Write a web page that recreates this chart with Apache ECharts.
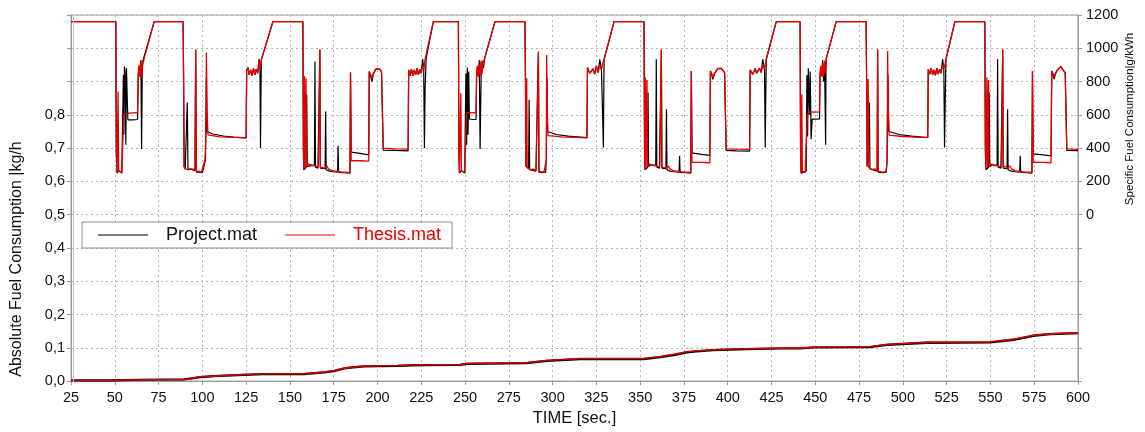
<!DOCTYPE html>
<html>
<head>
<meta charset="utf-8">
<script src="https://cdn.jsdelivr.net/npm/echarts@6/dist/echarts.min.js"></script>
<style>
  html, body { margin: 0; padding: 0; background: #fff; }
  #chart { width: 1145px; height: 432px; }
</style>
</head>
<body>
<div id="chart"></div>
<script>
// Run names
const runNames = ['Project.mat', 'Thesis.mat'];

// Tick labels (decimal comma on the absolute axis)
const absTickLabels = ['0,0', '0,1', '0,2', '0,3', '0,4', '0,5', '0,6', '0,7', '0,8'];
const sfcTickLabels = ['0', '200', '400', '600', '800', '1000', '1200'];

// Specific fuel consumption [g/kWh] vs time [s] – Thesis.mat
const thesisSfc = [
  [25,1160],[50.6,1160],
  [50.9,370],[51.3,250],[51.7,255],[51.9,740],[52.2,265],[53.0,258],[54.0,250],[54.6,262],[55.1,600],[55.6,612],[58.0,610],[60.5,612],[63.0,614],[63.4,850],[63.9,900],[64.4,830],[64.9,915],[65.4,825],[65.9,930],[66.3,915],[66.7,935],
  [72.5,1160],[89.0,1160],
  [89.3,820],[89.6,290],[90.2,275],[91.0,285],[92.0,270],[93.0,280],[94.0,275],[95.8,270],[96.2,994],[96.6,260],[98.0,262],[99.5,255],[100.5,265],[101.5,330],[102.0,460],[102.3,975],[102.7,620],[103.2,480],[110.0,468],[118.0,465],[125.0,462],
  [125.3,865],[126.0,885],[126.8,840],[127.6,870],[128.4,835],[129.2,880],[130.0,840],[130.8,875],[131.6,850],[132.4,920],[133.0,870],[133.6,930],[140.3,1160],[157.4,1160],
  [157.7,400],[157.9,270],[158.3,834],[158.6,280],[159.2,820],[159.5,290],[160.3,305],[161.0,314],[162.0,300],[163.0,305],[164.0,292],[165.0,300],[166.3,290],[166.8,300],[167.1,994],[167.4,285],[168.5,290],[170.0,280],[171.0,294],[172.0,275],[174.0,265],[176.0,262],[178.0,258],[180.0,256],[182.0,255],[184.3,254],[184.6,855],[185.0,324],[190.0,324],[195.0,322],
  [195.3,860],[196.2,840],[196.9,820],[197.6,850],[198.4,865],[199.3,878],[200.2,890],[201.2,875],[202.3,860],[203.0,850],[203.3,400],[210.0,396],[217.5,394],
  [217.8,870],[218.6,835],[219.4,875],[220.2,835],[221.0,870],[221.8,840],[222.6,880],[223.4,840],[224.2,875],[225.0,850],[225.8,895],[226.5,870],[227.1,930],[227.8,940],[231.9,1160],[246.2,1160],
  [246.5,370],[246.8,250],[247.3,255],[247.6,730],[247.9,265],[248.8,258],[249.8,250],[250.3,262],[250.8,600],[251.3,614],[254.0,612],[256.3,614],[256.6,850],[257.1,895],[257.6,830],[258.1,910],[258.6,830],[259.1,925],[259.7,845],[260.3,930],[260.8,915],[261.2,940],[267.1,1160],[284.2,1160],
  [284.5,820],[284.8,290],[285.2,820],[285.5,285],[286.5,280],[287.5,270],[289.0,275],[290.5,265],[291.6,270],[291.9,980],[292.2,262],[293.5,258],[295.0,255],[296.0,262],[296.4,330],[296.6,960],[297.0,620],[297.4,475],[305.0,468],[312.0,465],[319.6,462],
  [319.9,884],[320.6,864],[321.3,850],[322.1,844],[323.1,878],[324.0,845],[325.0,894],[326.0,854],[326.9,900],[327.9,870],[328.6,910],[329.4,934],[335.1,1160],[352.2,1160],
  [352.5,400],[352.7,270],[353.0,824],[353.3,280],[353.9,810],[354.2,290],[355.0,305],[356.0,314],[357.0,300],[358.0,305],[359.0,292],[360.0,300],[361.2,290],[361.8,300],[362.1,994],[362.4,285],[363.5,290],[365.0,280],[366.0,294],[367.0,275],[369.0,265],[371.0,262],[373.0,258],[375.0,256],[377.0,255],[378.9,254],[379.2,864],[379.6,314],[385.0,314],[389.8,312],
  [390.1,864],[390.8,850],[391.5,824],[392.4,850],[393.4,864],[394.3,878],[395.3,890],[396.3,880],[397.3,870],[398.2,854],[398.9,850],[399.1,396],[405.0,394],[412.5,392],
  [412.8,870],[413.6,860],[414.3,844],[415.0,860],[415.7,878],[416.5,850],[417.2,844],[418.1,880],[419.1,854],[420.0,900],[421.0,874],[421.6,910],[422.0,934],[427.7,1160],[441.3,1160],
  [441.6,370],[441.9,250],[442.1,260],[442.3,724],[442.6,262],[443.4,255],[444.2,254],[444.8,262],[445.3,560],[445.8,608],[447.2,618],[450.0,616],[452.4,618],[452.7,850],[453.2,895],[453.7,830],[454.2,910],[454.7,830],[455.2,925],[455.7,850],[456.2,935],[461.9,1160],[479.0,1160],
  [479.3,820],[479.6,290],[480.2,815],[480.5,285],[481.5,280],[482.5,270],[484.0,275],[485.3,268],[485.6,994],[485.9,262],[487.5,258],[489.0,255],[490.5,262],[491.0,330],[491.3,985],[491.7,620],[492.2,478],[500.0,470],[507.0,466],[514.2,464],
  [514.5,875],[515.4,845],[516.2,880],[517.0,840],[517.8,870],[518.6,838],[519.4,880],[520.2,845],[521.0,875],[521.8,850],[522.7,900],[523.6,880],[524.6,934],[529.7,1160],[546.8,1160],
  [547.1,400],[547.4,270],[548.0,824],[548.3,280],[548.9,810],[549.2,290],[550.0,305],[551.0,314],[552.0,300],[553.0,305],[554.0,292],[555.0,300],[556.3,290],[556.7,300],[557.0,994],[557.3,285],[558.5,290],[560.0,280],[561.0,294],[562.0,275],[564.0,265],[566.0,262],[568.0,258],[570.0,256],[572.0,255],[573.7,254],[574.0,864],[574.4,314],[580.0,314],[584.6,312],
  [585.0,864],[585.7,850],[586.4,824],[587.1,850],[587.9,864],[589.0,878],[590.2,890],[591.4,870],[592.7,854],[593.4,850],[593.6,396],[600.0,393]
];

// Specific fuel consumption [g/kWh] vs time [s] – Project.mat
const projectSfc = [
  [25,1160],[50.6,1160],
  [50.9,370],[51.3,250],[51.7,255],[52.2,265],[53.0,258],[54.0,250],[54.6,262],[54.9,840],[55.2,480],[55.5,890],[55.9,860],[56.3,420],[56.7,880],[57.1,700],[57.5,570],[60.5,570],[63.0,572],[63.4,840],[63.9,890],[64.4,830],[64.9,930],[65.3,395],[65.7,870],[66.2,930],[66.7,935],[72.5,1160],[89.0,1160],
  [89.3,820],[89.6,290],[90.2,275],[91.0,280],[91.4,674],[91.8,270],[93.0,275],[95.8,265],[96.2,990],[96.6,255],[98.0,255],[100.0,252],[101.0,258],[101.8,330],[102.3,830],[102.7,500],[103.2,495],[106.0,485],[112.0,473],[118.0,466],[125.0,462],
  [125.3,865],[126.0,885],[126.8,840],[127.6,870],[128.4,835],[129.2,880],[130.0,840],[130.8,875],[131.6,850],[132.4,935],[132.9,870],[133.2,400],[133.5,760],[133.7,930],[140.3,1160],[157.4,1160],
  [157.7,400],[157.9,270],[158.6,280],[159.3,285],[159.6,720],[159.9,290],[161.0,300],[162.5,295],[164.0,300],[164.3,920],[164.6,285],[166.0,280],[167.1,990],[167.4,280],[170.1,276],[170.4,620],[170.7,270],[172.5,262],[174.5,258],[177.2,256],[177.5,414],[177.8,254],[181.0,252],[184.3,250],[184.6,855],[185.0,376],[190.0,368],[195.0,360],
  [195.3,860],[196.2,830],[196.9,800],[197.6,845],[198.4,860],[199.3,878],[200.2,890],[201.2,875],[202.3,860],[203.0,850],[203.3,388],[210.0,386],[217.5,384],
  [217.8,870],[218.6,835],[219.4,875],[220.2,835],[221.0,870],[221.8,840],[222.6,880],[223.4,840],[224.2,875],[225.0,850],[225.8,935],[226.4,870],[226.8,400],[227.2,760],[227.8,940],[231.9,1160],[246.2,1160],
  [246.5,370],[246.8,250],[247.3,255],[247.9,265],[248.8,258],[249.8,250],[250.2,262],[250.5,850],[250.9,420],[251.3,885],[251.7,480],[252.1,860],[252.5,575],[254.0,572],[256.3,572],[256.6,840],[257.1,890],[257.6,830],[258.1,930],[258.6,395],[259.2,860],[259.8,920],[260.5,880],[261.2,940],[267.1,1160],[284.2,1160],
  [284.5,820],[284.8,290],[285.5,280],[286.3,275],[286.6,690],[286.9,270],[288.0,272],[290.5,262],[291.6,265],[291.9,975],[292.2,255],[294.0,252],[296.0,256],[296.4,330],[296.8,820],[297.1,500],[297.5,492],[302.0,482],[309.0,472],[319.6,463],
  [319.9,884],[320.6,864],[321.3,850],[322.1,844],[323.1,878],[324.0,845],[325.0,894],[326.0,854],[326.9,934],[327.9,870],[328.6,860],[329.0,404],[329.2,700],[329.4,934],[335.1,1160],[352.2,1160],
  [352.5,400],[352.7,270],[353.3,280],[354.2,285],[354.5,734],[354.8,290],[356.0,300],[357.5,295],[358.9,300],[359.2,934],[359.5,285],[361.0,280],[362.1,990],[362.4,280],[364.7,276],[365.0,634],[365.3,270],[367.0,262],[369.0,258],[372.2,256],[372.5,354],[372.8,254],[376.0,252],[378.9,250],[379.2,864],[379.6,372],[385.0,362],[389.8,356],
  [390.1,864],[390.8,840],[391.5,814],[392.4,845],[393.4,864],[394.3,878],[395.3,890],[396.3,880],[397.3,870],[398.2,854],[398.9,850],[399.1,386],[405.0,384],[412.5,382],
  [412.8,870],[413.6,860],[414.3,844],[415.0,860],[415.7,878],[416.5,850],[417.2,844],[418.1,880],[419.1,854],[420.0,934],[421.0,874],[421.4,404],[421.7,700],[422.0,934],[427.7,1160],[441.3,1160],
  [441.6,370],[441.9,250],[442.1,260],[442.6,262],[443.4,255],[444.2,254],[444.8,262],[445.2,840],[445.6,470],[446.0,880],[446.3,884],[446.7,600],[447.1,860],[447.6,454],[448.2,574],[450.0,574],[452.4,576],[452.7,840],[453.2,890],[453.7,830],[454.2,930],[454.7,800],[455.3,900],[455.9,420],[456.1,880],[456.2,935],[461.9,1160],[479.0,1160],
  [479.3,820],[479.6,290],[480.5,280],[480.9,674],[481.2,275],[482.5,272],[485.3,262],[485.6,990],[485.9,255],[488.0,252],[490.5,256],[491.0,330],[491.5,840],[491.9,500],[492.3,492],[498.0,482],[505.0,472],[514.2,464],
  [514.5,875],[515.4,845],[516.2,880],[517.0,840],[517.8,870],[518.6,838],[519.4,880],[520.2,845],[521.0,875],[521.8,850],[522.7,934],[523.4,870],[523.8,404],[524.2,700],[524.6,934],[529.7,1160],[546.8,1160],
  [547.1,400],[547.4,270],[548.3,280],[549.0,285],[549.3,734],[549.6,290],[551.0,300],[552.5,295],[553.8,300],[554.1,934],[554.4,285],[556.0,280],[557.0,990],[557.3,280],[559.5,276],[559.8,634],[560.1,270],[562.0,262],[564.0,258],[566.7,256],[567.0,354],[567.3,254],[571.0,252],[573.7,250],[574.0,864],[574.4,366],[580.0,360],[584.6,354],
  [585.0,864],[585.7,840],[586.4,814],[587.1,845],[587.9,864],[589.0,878],[590.2,890],[591.4,870],[592.7,854],[593.4,850],[593.6,386],[600.0,385]
];

// Absolute (cumulative) fuel consumption [kg/h] vs time [s]
const thesisAbs = [
  [25,0.002],[47.6,0.002],[55,0.003],[65,0.004],[89.5,0.005],[95,0.009],[99,0.013],[106.6,0.015],[123.8,0.020],[135,0.022],[158,0.022],[169.5,0.027],[175,0.031],[181,0.039],[186,0.042],[192.3,0.045],[201.4,0.046],[211.4,0.047],[224.3,0.049],[247.1,0.050],[250.9,0.053],[285.2,0.055],[290,0.058],[296.7,0.062],[315.7,0.068],[352,0.068],[361.5,0.074],[370,0.081],[376.5,0.088],[382,0.091],[391.8,0.094],[410.8,0.097],[429.8,0.099],[441.3,0.099],[448.9,0.102],[481.2,0.103],[490.7,0.110],[513.6,0.117],[549.8,0.118],[563.1,0.126],[574.5,0.138],[584,0.142],[600,0.145]
];
const projectAbs = [
  [25,0.002],[47.6,0.002],[55,0.003],[65,0.004],[89.5,0.005],[95,0.009],[99,0.012],[106.6,0.015],[123.8,0.019],[135,0.021],[158,0.021],[169.5,0.026],[175,0.030],[181,0.038],[186,0.041],[192.3,0.044],[201.4,0.045],[211.4,0.046],[224.3,0.048],[247.1,0.049],[250.9,0.052],[285.2,0.054],[290,0.057],[296.7,0.061],[315.7,0.066],[352,0.066],[361.5,0.072],[370,0.079],[376.5,0.086],[382,0.089],[391.8,0.093],[410.8,0.096],[429.8,0.098],[441.3,0.098],[448.9,0.101],[481.2,0.102],[490.7,0.109],[513.6,0.115],[549.8,0.116],[563.1,0.124],[574.5,0.136],[584,0.141],[600,0.144]
];

const FONT = '"Liberation Sans", Arial, Helvetica, sans-serif';
const RED = '#e60000';
const BLACK = '#000000';
const GRID_LINE = { show: true, lineStyle: { color: '#b4b4b4', type: [2, 3], width: 1 } };

const chart = echarts.init(document.getElementById('chart'), null, { renderer: 'canvas' });

chart.setOption({
  animation: false,
  backgroundColor: '#ffffff',
  textStyle: { fontFamily: FONT },
  grid: {
    left: 71, right: 67, top: 15, bottom: 49,
    show: true, borderColor: '#9a9a9a', borderWidth: 1, backgroundColor: 'transparent'
  },
  legend: {
    left: 82, top: 222,
    orient: 'horizontal',
    backgroundColor: '#ffffff',
    borderColor: '#8c8c8c', borderWidth: 1, borderRadius: 0,
    padding: [4, 11, 4, 16],
    itemGap: 28,
    itemWidth: 50, itemHeight: 1,
    icon: 'rect',
    textStyle: { fontFamily: FONT, fontSize: 18, padding: [0, 0, 0, 13] },
    data: [
      { name: runNames[0], textStyle: { color: '#111111' } },
      { name: runNames[1], textStyle: { color: RED } }
    ]
  },
  xAxis: {
    type: 'value', min: 25, max: 600, interval: 25,
    name: 'TIME [sec.]', nameLocation: 'middle', nameGap: 26,
    nameTextStyle: { fontFamily: FONT, fontSize: 16.5, color: '#111' },
    axisLine: { show: true, onZero: false, lineStyle: { color: '#9a9a9a' } },
    axisTick: { show: true, length: 4, lineStyle: { color: '#9a9a9a' } },
    axisLabel: { fontFamily: FONT, fontSize: 14.5, color: '#111', margin: 9 },
    splitLine: GRID_LINE
  },
  yAxis: [
    {
      type: 'value', position: 'left', min: 0, max: 1.1, interval: 0.1,
      axisLine: { show: true, lineStyle: { color: '#9a9a9a' } },
      axisTick: { show: true, length: 4, lineStyle: { color: '#9a9a9a' },
                  interval: (i, v) => v <= 0.8001 },
      axisLabel: {
        fontFamily: FONT, fontSize: 14.5, color: '#111', margin: 6,
        formatter: v => absTickLabels[Math.round(v * 10)] || ''
      },
      splitLine: GRID_LINE
    },
    {
      type: 'value', position: 'right', min: -1000, max: 1200, interval: 200,
      axisLine: { show: true, lineStyle: { color: '#9a9a9a' } },
      axisTick: { show: true, length: 4, lineStyle: { color: '#9a9a9a' },
                  interval: (i, v) => v >= 0 },
      axisLabel: {
        fontFamily: FONT, fontSize: 14.5, color: '#111', margin: 8,
        formatter: v => (v >= 0 ? (sfcTickLabels[Math.round(v / 200)] || '') : '')
      },
      splitLine: { show: false }
    }
  ],
  graphic: [
    {
      // left axis title, reading bottom to top
      type: 'text', z: 10,
      x: 17, y: 259, rotation: Math.PI / 2,
      style: {
        text: 'Absolute Fuel Consumption |kg/h', fontFamily: FONT, fontSize: 16,
        fill: '#111', align: 'center', verticalAlign: 'middle'
      }
    },
    {
      // right axis title, centred on the labelled part of the axis
      type: 'text', z: 10,
      x: 1130, y: 119, rotation: Math.PI / 2,
      style: {
        text: 'Specific Fuel Consumption|g/kWh', fontFamily: FONT, fontSize: 11.5,
        fill: '#111', align: 'center', verticalAlign: 'middle'
      }
    },
    {
      // second rule just inside the left axis line
      type: 'line', z: 5,
      shape: { x1: 73.5, y1: 15, x2: 73.5, y2: 383 },
      style: { stroke: '#c8c8c8', lineWidth: 1 }
    }
  ],
  series: [
    {
      name: runNames[0], type: 'line', yAxisIndex: 1, data: projectSfc,
      symbol: 'none', color: BLACK, lineStyle: { color: BLACK, width: 1.2 }, z: 2
    },
    {
      name: runNames[1], type: 'line', yAxisIndex: 1, data: thesisSfc,
      symbol: 'none', color: RED, lineStyle: { color: RED, width: 1.3 }, z: 3
    },
    {
      name: runNames[0], type: 'line', yAxisIndex: 0, data: projectAbs,
      symbol: 'none', color: BLACK, lineStyle: { color: BLACK, width: 2.2 }, z: 2
    },
    {
      name: runNames[1], type: 'line', yAxisIndex: 0, data: thesisAbs,
      symbol: 'none', color: RED, lineStyle: { color: '#c80000', width: 1.6 }, z: 3
    }
  ]
});
</script>
</body>
</html>
